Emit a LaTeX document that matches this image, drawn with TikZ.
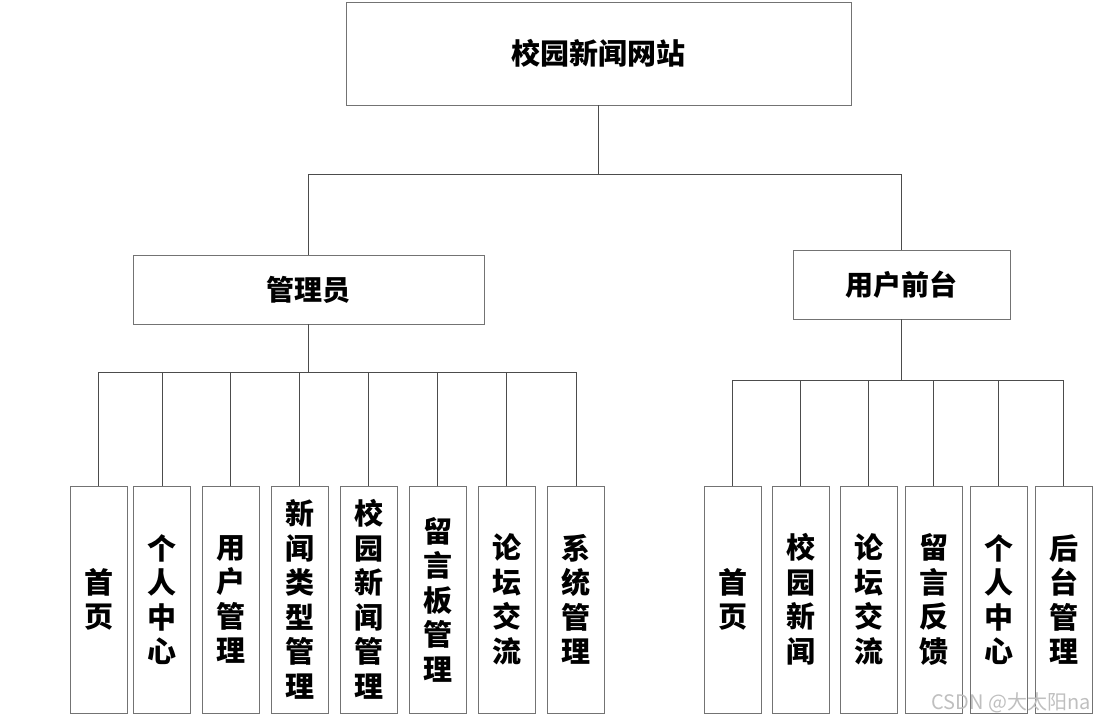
\documentclass[tikz,border=0pt]{standalone}
\usepackage{fontspec}
\newfontfamily\cjk{Noto Sans CJK SC}
\begin{document}
\begin{tikzpicture}[x=1pt, y=-1pt,
        topbox/.style={rectangle, draw=black!55, minimum width=505pt, minimum height=103pt, inner sep=0pt, font=\cjk\bfseries\fontsize{29}{34}\selectfont},
        midbox/.style={rectangle, draw=black!55, minimum height=69pt, inner sep=0pt, font=\cjk\bfseries\fontsize{28}{34}\selectfont},
        leaf/.style={rectangle, draw=black!55, minimum width=57pt, minimum height=227pt, inner sep=0pt, align=center, font=\cjk\bfseries\fontsize{29}{34.5}\selectfont},
        link/.style={draw=black!70, line width=0.9pt}
    ]
        \useasboundingbox (0,0) rectangle (1096,720);

        % Root
        \node[topbox] (root) at (598.5,53.5) {校园新闻网站};
        \coordinate (rbus) at (598.5,174);

        % Second level
        \node[midbox, minimum width=351pt] (adm) at (308.5,289.5) {管理员};
        \node[midbox, minimum width=217pt] (usr) at (901.5,284.5) {用户前台};
        \draw[link] (root.south) -- (rbus) -| (adm.north);
        \draw[link] (rbus) -| (usr.north);

        % Admin modules
        \coordinate (abus) at (308.5,372);
        \node[leaf] (a1) at (98.5,599.5) {首\\页};
        \node[leaf] (a2) at (162,599.5) {个\\人\\中\\心};
        \node[leaf] (a3) at (230.5,599.5) {用\\户\\管\\理};
        \node[leaf] (a4) at (299.5,599.5) {新\\闻\\类\\型\\管\\理};
        \node[leaf] (a5) at (368.5,599.5) {校\\园\\新\\闻\\管\\理};
        \node[leaf] (a6) at (437.5,599.5) {留\\言\\板\\管\\理};
        \node[leaf] (a7) at (506.5,599.5) {论\\坛\\交\\流};
        \node[leaf] (a8) at (576,599.5) {系\\统\\管\\理};
        \draw[link] (adm.south) -- (abus);
        \draw[link] (abus) -| (a1.north);
        \draw[link] (abus) -| (a2.north);
        \draw[link] (abus) -| (a3.north);
        \draw[link] (abus) -| (a4.north);
        \draw[link] (abus) -| (a5.north);
        \draw[link] (abus) -| (a6.north);
        \draw[link] (abus) -| (a7.north);
        \draw[link] (abus) -| (a8.north);

        % Front-end modules
        \coordinate (ubus) at (901.5,380);
        \node[leaf] (u1) at (732.5,599.5) {首\\页};
        \node[leaf] (u2) at (800.5,599.5) {校\\园\\新\\闻};
        \node[leaf] (u3) at (868.5,599.5) {论\\坛\\交\\流};
        \node[leaf] (u4) at (933.5,599.5) {留\\言\\反\\馈};
        \node[leaf] (u5) at (998.5,599.5) {个\\人\\中\\心};
        \node[leaf] (u6) at (1063.5,599.5) {后\\台\\管\\理};
        \draw[link] (usr.south) -- (ubus);
        \draw[link] (ubus) -| (u1.north);
        \draw[link] (ubus) -| (u2.north);
        \draw[link] (ubus) -| (u3.north);
        \draw[link] (ubus) -| (u4.north);
        \draw[link] (ubus) -| (u5.north);
        \draw[link] (ubus) -| (u6.north);

        % Watermark
        \node[text=black!25, font=\cjk\fontsize{20}{22}\selectfont] (mark) at (1011,703) {CSDN @大太阳na};
    \end{tikzpicture}
\end{document}
